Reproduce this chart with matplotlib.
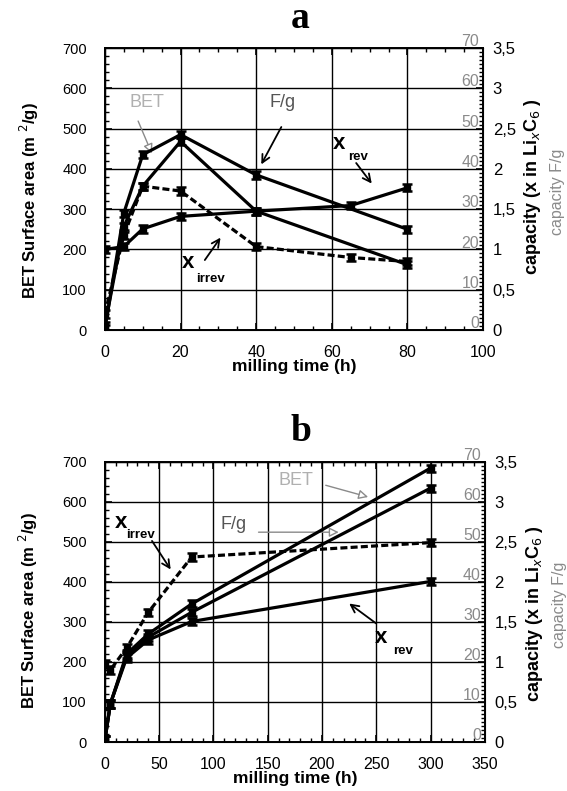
import matplotlib.pyplot as plt
from matplotlib.ticker import MultipleLocator, FuncFormatter

plt.rcParams['font.family'] = ['Liberation Sans', 'DejaVu Sans']

# panel a : milling time (h) and values on the BET scale (m2/g)
ha_bet = [0, 5, 10, 20, 40, 80]
a_bet = [10, 257, 357, 468, 295, 162]
ha_fg = [0, 5, 10, 20, 40, 80]
a_fg = [3, 290, 435, 485, 385, 250]
ha_rev = [0, 5, 10, 20, 40, 65, 80]
a_rev = [200, 207, 251, 282, 295, 309, 353]
ha_irr = [0, 5, 10, 20, 40, 65, 80]
a_irr = [40, 235, 357, 345, 207, 180, 170]

# panel b
hb = [0, 5, 20, 40, 80, 300]
b_bet = [5, 95, 220, 270, 345, 684]
b_fg = [5, 95, 215, 262, 324, 634]
b_rev = [5, 95, 210, 255, 301, 401]
b_irr = [195, 180, 235, 324, 462, 498]

fg_ticks = [0, 10, 20, 30, 40, 50, 60, 70]
gray = '#8a8a8a'


def comma(v, pos):
    s = ('%.1f' % v).replace('.', ',')
    return s[:-2] if s.endswith(',0') else s


def draw_series(ax, x, y, dashed=False):
    ls = (0, (2.2, 1.0)) if dashed else '-'
    ax.errorbar(x, y, yerr=9, color='black', lw=2.3, ls=ls, marker='s', ms=4.5,
                capsize=3.5, capthick=1.8, elinewidth=1.5, zorder=5)


def setup(ax, xmax, xmaj, xmin, ly, ry, xpad, xlpad):
    ax.set_xlim(0, xmax)
    ax.set_ylim(0, 700)
    ax.xaxis.set_major_locator(MultipleLocator(xmaj))
    ax.xaxis.set_minor_locator(MultipleLocator(xmin))
    ax.yaxis.set_major_locator(MultipleLocator(100))
    ax.yaxis.set_minor_locator(MultipleLocator(20))
    ax.grid(True, color='black', lw=1.0)
    ax.tick_params(which='both', direction='in', top=True, right=False)
    ax.tick_params(axis='x', labelsize=11.5, pad=xpad)
    ax.tick_params(axis='y', labelsize=10.5, pad=13)
    ax.tick_params(which='major', length=5, width=1.2)
    ax.tick_params(which='minor', length=3, width=1.0)
    for s in ax.spines.values():
        s.set_linewidth(1.4)
    ax.set_xlabel('milling time (h)', fontsize=12.5, fontweight='bold', labelpad=xlpad)
    ax.text(-0.2, ly, 'BET Surface area (m $^{2}$/g)', transform=ax.transAxes, rotation=90,
            ha='center', va='center', fontsize=12, fontweight='bold')

    ax2 = ax.twinx()
    ax2.set_ylim(0, 3.5)
    ax2.yaxis.set_major_locator(MultipleLocator(0.5))
    ax2.yaxis.set_minor_locator(MultipleLocator(0.05))
    ax2.yaxis.set_major_formatter(FuncFormatter(comma))
    ax2.tick_params(which='both', direction='in', labelsize=12, pad=7)
    ax2.tick_params(which='major', length=5, width=1.2)
    ax2.tick_params(which='minor', length=3, width=1.0)
    ax.text(1.13, ry, 'capacity (x in Li$_x$C$_6$ )', transform=ax.transAxes, rotation=90,
            ha='center', va='center', fontsize=13, fontweight='bold')
    for v in fg_ticks:
        ax.text(0.99, v * 10 / 700 - 0.004, str(v), transform=ax.transAxes, ha='right',
                va='bottom', fontsize=11.5, color=gray, clip_on=False, zorder=6)
    ax.text(1.197, 0.49, 'capacity F/g', transform=ax.transAxes, rotation=90, ha='center',
            va='center', fontsize=11.5, color=gray)
    return ax2


fig = plt.figure(figsize=(5.67, 7.91), dpi=100)
axa = fig.add_axes([0.185, 0.5828, 0.667, 0.3565])
axb = fig.add_axes([0.185, 0.0619, 0.670, 0.3544])

setup(axa, 100, 20, 5, 0.46, 0.51, 11, -1)
setup(axb, 350, 50, 10, 0.47, 0.46, 11, -1)

draw_series(axa, ha_bet, a_bet)
draw_series(axa, ha_fg, a_fg)
draw_series(axa, ha_rev, a_rev)
draw_series(axa, ha_irr, a_irr, dashed=True)

draw_series(axb, hb, b_bet)
draw_series(axb, hb, b_fg)
draw_series(axb, hb, b_rev)
draw_series(axb, hb, b_irr, dashed=True)

fig.text(0.53, 0.965, 'a', fontsize=27, fontweight='bold', family='Liberation Serif', ha='center')
fig.text(0.53, 0.442, 'b', fontsize=27, fontweight='bold', family='Liberation Serif', ha='center')

hollow = dict(arrowstyle='-|>', color=gray, lw=1.0, mutation_scale=14, fc='white')
solid = dict(arrowstyle='->', color='black', lw=1.3, mutation_scale=14)

# panel a labels
axa.text(11, 565, 'BET', fontsize=13, color='#b0b0b0', ha='center', va='center')
axa.annotate('', xy=(12.7, 432), xytext=(8.5, 525), arrowprops=hollow)
axa.text(47, 565, 'F/g', fontsize=13, color='#555555', ha='center', va='center')
axa.annotate('', xy=(41, 405), xytext=(47, 510), arrowprops=solid)
axa.text(62, 462, 'x', fontsize=16, fontweight='bold', ha='center', va='center')
axa.text(67, 430, 'rev', fontsize=9.5, fontweight='bold', ha='center', va='center')
axa.annotate('', xy=(71, 358), xytext=(66, 420), arrowprops=solid)
axa.text(22, 168, 'x', fontsize=16, fontweight='bold', ha='center', va='center')
axa.text(28, 126, 'irrev', fontsize=9.5, fontweight='bold', ha='center', va='center')
axa.annotate('', xy=(31, 235), xytext=(26, 168), arrowprops=solid)

# panel b labels
axb.text(176, 652, 'BET', fontsize=13, color='#b0b0b0', ha='center', va='center')
axb.annotate('', xy=(245, 610), xytext=(201, 643), arrowprops=hollow)
axb.text(119, 542, 'F/g', fontsize=13, color='#555555', ha='center', va='center')
axb.annotate('', xy=(218, 524), xytext=(139, 524), arrowprops=hollow)
axb.text(15, 548, 'x', fontsize=16, fontweight='bold', ha='center', va='center')
axb.text(33, 518, 'irrev', fontsize=9.5, fontweight='bold', ha='center', va='center')
axb.annotate('', xy=(62, 425), xytext=(42, 508), arrowprops=solid)
axb.text(254, 262, 'x', fontsize=16, fontweight='bold', ha='center', va='center')
axb.text(275, 228, 'rev', fontsize=9.5, fontweight='bold', ha='center', va='center')
axb.annotate('', xy=(223, 350), xytext=(252, 292), arrowprops=solid)

fig.savefig('out.png', dpi=100)
